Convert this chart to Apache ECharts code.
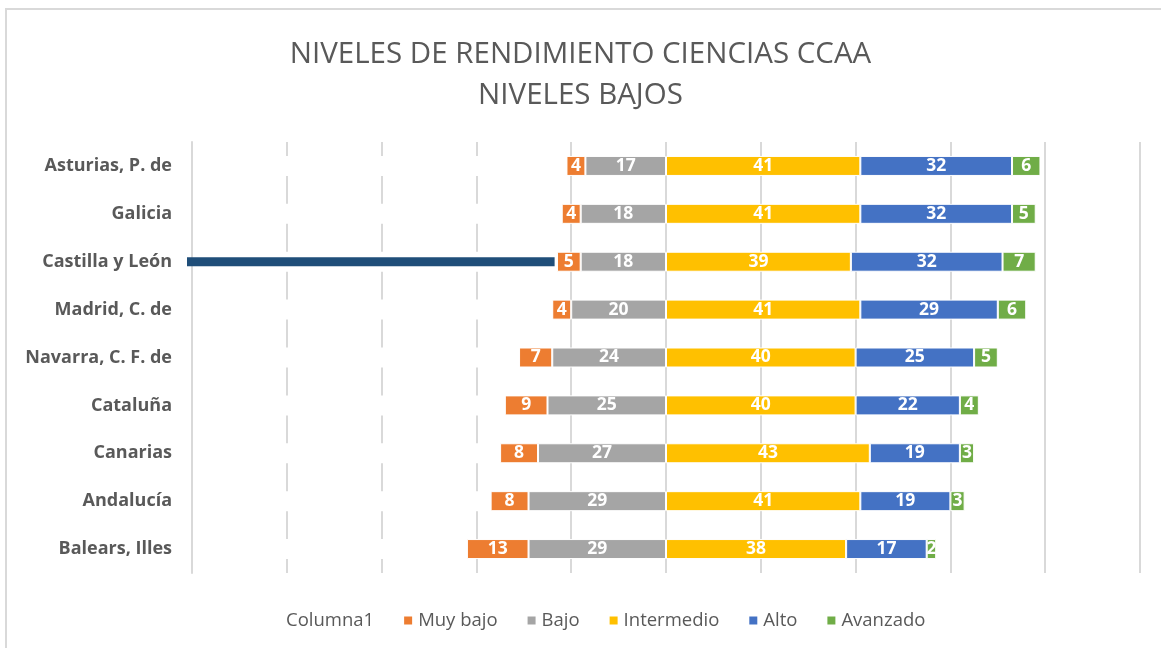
<!DOCTYPE html>
<html lang="es" style="height: 100%">
<head>
    <meta charset="utf-8">
</head>
<body style="height: 100%; margin: 0; background: #fff">
<div id="container" style="height: 100%"></div>
<script type="text/javascript" src="https://cdn.jsdelivr.net/npm/echarts@6/dist/echarts.min.js"></script>
<script type="text/javascript">

    const regions = ['Asturias, P. de', 'Galicia', 'Castilla y León', 'Madrid, C. de', 'Navarra, C. F. de',
        'Cataluña', 'Canarias', 'Andalucía', 'Balears, Illes'];
    const muyBajo = [4, 4, 5, 4, 7, 9, 8, 8, 13];
    const bajo = [17, 18, 18, 20, 24, 25, 27, 29, 29];
    const intermedio = [41, 41, 39, 41, 40, 40, 43, 41, 38];
    const alto = [32, 32, 32, 29, 25, 22, 19, 19, 17];
    const avanzado = [6, 5, 7, 6, 5, 4, 3, 3, 2];
    // padding series: fills from -100 up to the start of the low levels
    const columna1 = muyBajo.map((v, i) => -(100 - v - bajo[i]));
    // dark marker drawn over the Castilla y León row
    const highlighted = 'Castilla y León';
    const highlightFrom = -101.5;
    const highlightTo = -23.5;

    const textColor = '#595959';
    const font = 'Open Sans';

    var dom = document.getElementById('container');
    var myChart = echarts.init(dom, null, {renderer: 'canvas'});

    function valueLabel() {
        return {
            show: true,
            position: 'inside',
            color: '#fff',
            fontFamily: font,
            fontWeight: 'bold',
            fontSize: 17.5
        };
    }

    const option = {
        animation: false,
        title: {
            text: 'NIVELES DE RENDIMIENTO CIENCIAS CCAA\nNIVELES BAJOS',
            left: 'center',
            top: 29,
            textStyle: {
                fontFamily: font,
                fontWeight: 'normal',
                fontSize: 29.5,
                lineHeight: 41,
                color: textColor
            }
        },
        graphic: [{
            type: 'rect',
            silent: true,
            shape: {x: 6, y: 9, width: 1200, height: 700},
            style: {fill: 'none', stroke: '#D9D9D9', lineWidth: 2}
        }],
        legend: {
            bottom: 13,
            left: 266,
            itemWidth: 10,
            itemHeight: 10,
            itemGap: 28,
            icon: 'rect',
            data: ['Columna1', 'Muy bajo', 'Bajo', 'Intermedio', 'Alto', 'Avanzado'],
            textStyle: {fontFamily: font, fontSize: 18.5, color: textColor}
        },
        grid: {
            left: 192,
            right: 21,
            top: 142,
            bottom: 75,
            containLabel: false
        },
        xAxis: {
            type: 'value',
            min: -100,
            max: 100,
            interval: 20,
            axisLabel: {show: false},
            axisLine: {show: false},
            axisTick: {show: false},
            splitLine: {lineStyle: {color: '#D9D9D9', width: 2}}
        },
        yAxis: {
            type: 'category',
            inverse: true,
            data: regions,
            z: 3,
            axisTick: {show: false},
            axisLine: {show: true, onZero: false, lineStyle: {color: '#D9D9D9', width: 2}},
            axisLabel: {
                margin: 20,
                color: textColor,
                fontFamily: font,
                fontWeight: 'bold',
                fontSize: 18
            }
        },
        series: [
            {
                name: 'Bajo', type: 'bar', stack: 'neg', barWidth: 20, barGap: '-100%',
                data: bajo.map(v => -v),
                itemStyle: {color: '#A5A5A5', borderColor: '#fff', borderWidth: 1},
                label: Object.assign(valueLabel(), {formatter: p => -p.value})
            },
            {
                name: 'Muy bajo', type: 'bar', stack: 'neg', barWidth: 20,
                data: muyBajo.map(v => -v),
                itemStyle: {color: '#ED7D31', borderColor: '#fff', borderWidth: 1},
                label: Object.assign(valueLabel(), {formatter: p => -p.value})
            },
            {
                name: 'Columna1', type: 'bar', stack: 'neg', barWidth: 20,
                data: columna1,
                itemStyle: {color: '#fff'},
                label: {show: false}
            },
            {
                name: 'Intermedio', type: 'bar', stack: 'pos', barWidth: 20,
                data: intermedio,
                itemStyle: {color: '#FFC000', borderColor: '#fff', borderWidth: 1},
                label: valueLabel()
            },
            {
                name: 'Alto', type: 'bar', stack: 'pos', barWidth: 20,
                data: alto,
                itemStyle: {color: '#4472C4', borderColor: '#fff', borderWidth: 1},
                label: valueLabel()
            },
            {
                name: 'Avanzado', type: 'bar', stack: 'pos', barWidth: 20,
                data: avanzado,
                itemStyle: {color: '#70AD47', borderColor: '#fff', borderWidth: 1},
                label: valueLabel()
            },
            {
                name: 'marker', type: 'line', z: 6, silent: true,
                symbol: 'none',
                data: [[highlightFrom, highlighted], [highlightTo, highlighted]],
                lineStyle: {color: '#1F4E79', width: 9, cap: 'butt'}
            }
        ]
    };

    myChart.setOption(option);
    window.addEventListener('resize', myChart.resize);

</script>
</body>
</html>
